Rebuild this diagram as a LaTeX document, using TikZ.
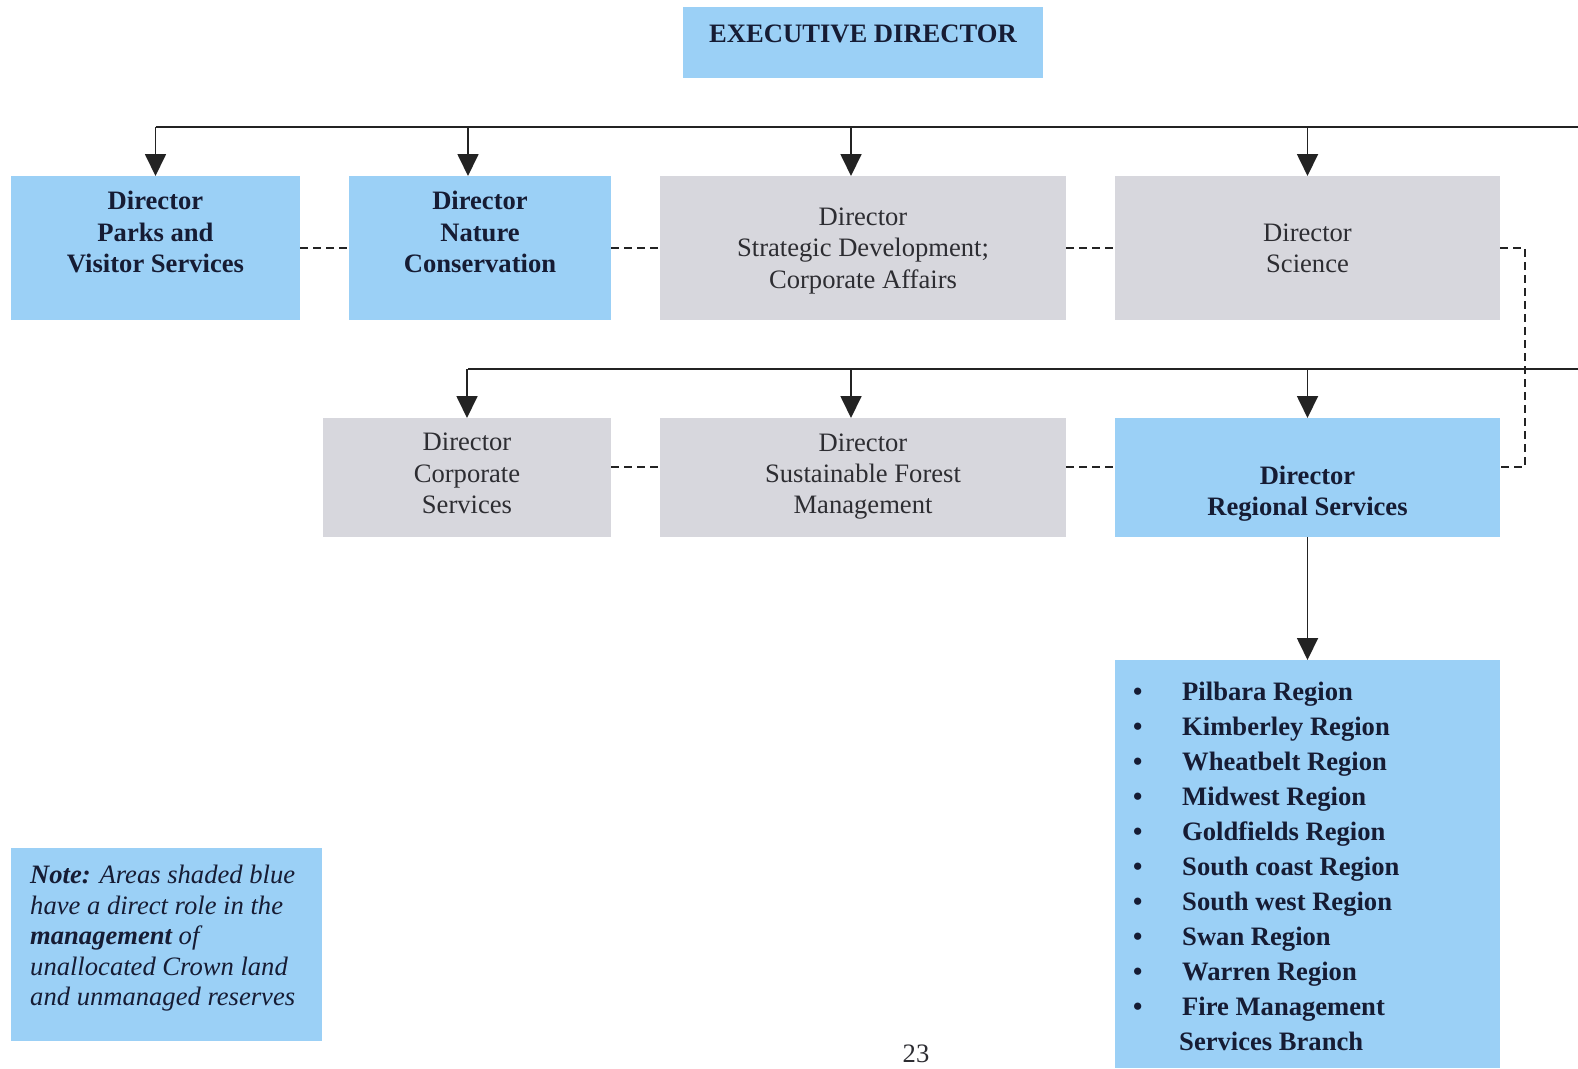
\documentclass[tikz,border=0pt]{standalone}
\usepackage{fontspec}
\setmainfont{Liberation Serif}
\usetikzlibrary{arrows.meta}

\definecolor{boxBlue}{RGB}{155,208,246}
\definecolor{boxGrey}{RGB}{215,215,221}
\definecolor{inkNavy}{RGB}{22,28,52}
\definecolor{inkGrey}{RGB}{45,45,50}
\definecolor{lineGrey}{RGB}{35,35,35}

\tikzset{
  orgBox/.style={inner sep=0pt, outer sep=0pt, draw=none},
  blueBox/.style={orgBox, fill=boxBlue},
  greyBox/.style={orgBox, fill=boxGrey},
  boldText/.style={align=center, inner sep=0pt, text=inkNavy,
                   font=\fontsize{26.6}{31.3}\selectfont\bfseries},
  plainText/.style={align=center, inner sep=0pt, text=inkGrey,
                    font=\fontsize{26.6}{31.3}\selectfont},
  listText/.style={inner sep=0pt, text=inkNavy,
                   font=\fontsize{26.6}{35}\selectfont\bfseries},
  noteText/.style={align=left, inner sep=0pt, text=inkNavy,
                   font=\fontsize{26.6}{30.5}\selectfont\itshape},
  busLine/.style={line width=1.8pt, draw=lineGrey},
  downArrow/.style={busLine, -{Triangle[width=21pt,length=22pt]}},
  linkLine/.style={line width=2pt, draw=lineGrey, dash pattern=on 8pt off 5pt},
}

\begin{document}
\begin{tikzpicture}[x=1pt,y=-1pt]
\useasboundingbox (0,0) rectangle (1578,1068);

% Executive director
\node[blueBox, minimum width=360pt, minimum height=71pt] (exec) at (863,42.5) {};
\node[boldText, yshift=9pt] (execText) at (exec.center) {EXECUTIVE DIRECTOR};

% First row of directors
\node[blueBox, minimum width=289pt, minimum height=144pt] (parks) at (155.5,248) {};
\node[blueBox, minimum width=262pt, minimum height=144pt] (nature) at (480,248) {};
\node[greyBox, minimum width=406pt, minimum height=144pt] (strategic) at (863,248) {};
\node[greyBox, minimum width=385pt, minimum height=144pt] (science) at (1307.5,248) {};

\node[boldText, yshift=16pt] (parksText) at (parks.center) {Director\\Parks and\\Visitor Services};
\node[boldText, yshift=16pt] (natureText) at (nature.center) {Director\\Nature\\Conservation};
\node[plainText, yshift=-3pt] (strategicText) at (strategic.center) {Director\\Strategic Development;\\Corporate Affairs};
\node[plainText] (scienceText) at (science.center) {Director\\Science};

% Second row of directors
\node[greyBox, minimum width=288pt, minimum height=119pt] (corporate) at (467,477.5) {};
\node[greyBox, minimum width=406pt, minimum height=119pt] (forest) at (863,477.5) {};
\node[blueBox, minimum width=385pt, minimum height=119pt] (regional) at (1307.5,477.5) {};

\node[plainText, yshift=4pt] (corporateText) at (corporate.center) {Director\\Corporate\\Services};
\node[plainText, yshift=1pt] (forestText) at (forest.center) {Director\\Sustainable Forest\\Management};
\node[boldText, yshift=-16pt] (regionalText) at (regional.center) {Director\\Regional Services};

% Regions
\node[blueBox, minimum width=385pt, minimum height=408pt] (regions) at (1307.5,864) {};
\def\regionList{Pilbara Region,Kimberley Region,Wheatbelt Region,Midwest Region,
  Goldfields Region,South coast Region,South west Region,Swan Region,
  Warren Region,Fire Management}
\foreach \regName [count=\i] in \regionList {
  \node[listText, anchor=base west] (bullet\i) at (1133,{700+35*(\i-1)}) {\textbullet};
  \node[listText, anchor=base west] (region\i) at (1182,{700+35*(\i-1)}) {\regName};
}
\node[listText, anchor=base west] (region11) at (1179,1050) {Services Branch};

% Note
\node[blueBox, minimum width=311pt, minimum height=193pt] (note) at (166.5,944.5) {};
\node[noteText, anchor=north west] (noteBody) at (30,865)
  {\textbf{Note:} Areas shaded blue\\have a direct role in the\\\textbf{management} of\\unallocated Crown land\\and unmanaged reserves};

\node[plainText] (pageNum) at (916,1054) {23};

% Solid lines and arrows
\coordinate (topBus) at (155.5,127);
\coordinate (topBusEnd) at (1578,127);
\coordinate (lowBus) at (468,369);
\coordinate (lowBusEnd) at (1578,369);
\coordinate (natureTop) at ([xshift=-12pt]nature.north);
\coordinate (strategicTop) at ([xshift=-12pt]strategic.north);
\coordinate (forestTop) at ([xshift=-12pt]forest.north);
\draw[busLine] (topBus) -- (topBusEnd);
\draw[busLine] (lowBus) -- (lowBusEnd);

\draw[downArrow] (topBus -| parks.north) -- (parks.north);
\draw[downArrow] (topBus -| natureTop) -- (natureTop);
\draw[downArrow] (topBus -| strategicTop) -- (strategicTop);
\draw[downArrow] (topBus -| science.north) -- (science.north);
\draw[downArrow] (lowBus -| corporate.north) -- (corporate.north);
\draw[downArrow] (lowBus -| forestTop) -- (forestTop);
\draw[downArrow] (lowBus -| regional.north) -- (regional.north);
\draw[downArrow] (regional.south) -- (regions.north);

% Dashed links
\draw[linkLine] (parks.east) -- (nature.west);
\draw[linkLine] (nature.east) -- (strategic.west);
\draw[linkLine] (strategic.east) -- (science.west);
\draw[linkLine] (science.east) -- ++(25,0) |- ([yshift=11pt]regional.east);
\draw[linkLine] ([yshift=11pt]corporate.east) -- ([yshift=11pt]forest.west);
\draw[linkLine] ([yshift=11pt]forest.east) -- ([yshift=11pt]regional.west);
\end{tikzpicture}
\end{document}
